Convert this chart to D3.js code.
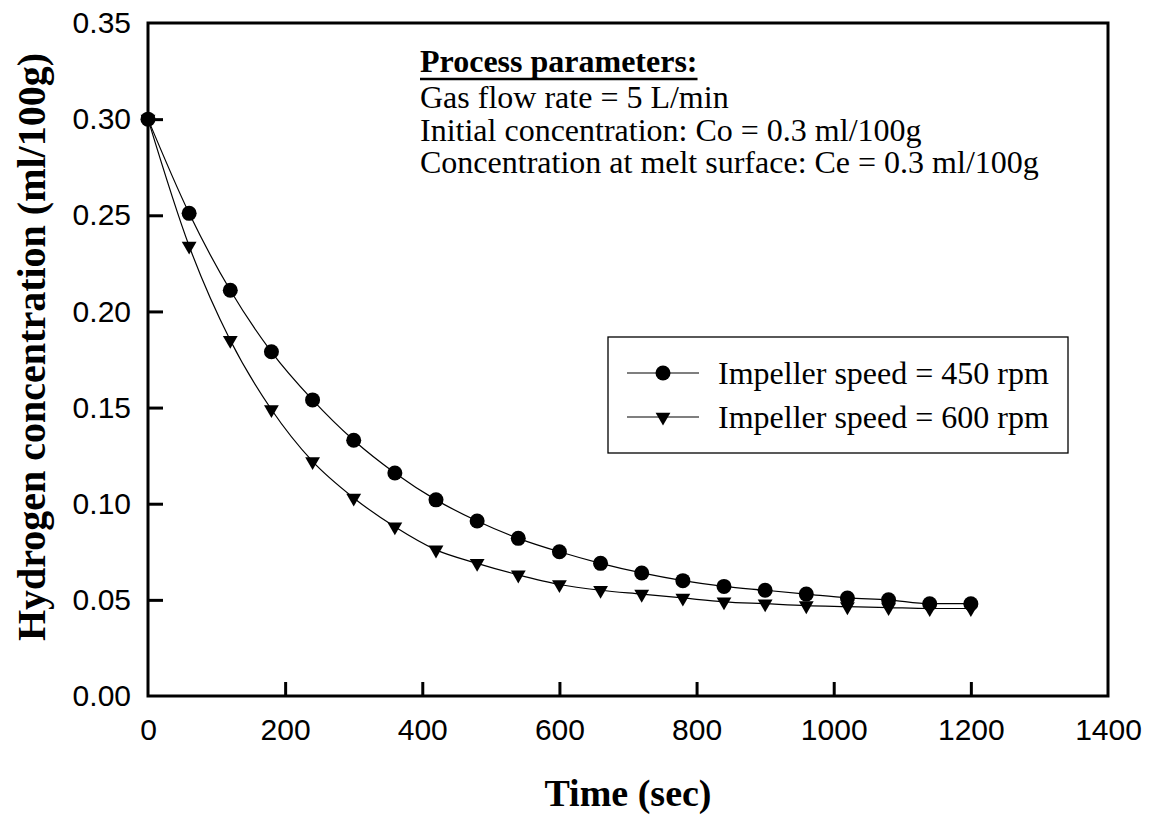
<!DOCTYPE html>
<html>
<head>
<meta charset="utf-8">
<script src="https://cdn.jsdelivr.net/npm/d3@7"></script>
<style>
  html, body { margin: 0; padding: 0; background: #fff; }
  svg { display: block; }
</style>
</head>
<body>
<svg id="chart" width="1151" height="816"></svg>
<script>
// ---- Data ----
const timeSec = [0, 60, 120, 180, 240, 300, 360, 420, 480, 540, 600, 660, 720, 780, 840, 900, 960, 1020, 1080, 1140, 1200];
const rpm450 = [0.300, 0.251, 0.211, 0.179, 0.154, 0.133, 0.116, 0.102, 0.091, 0.082, 0.075, 0.069, 0.064, 0.060, 0.057, 0.055, 0.053, 0.051, 0.050, 0.048, 0.048];
const rpm600 = [0.300, 0.234, 0.185, 0.149, 0.122, 0.103, 0.088, 0.076, 0.069, 0.063, 0.058, 0.055, 0.053, 0.051, 0.049, 0.048, 0.047, 0.0465, 0.046, 0.0455, 0.0455];
const seriesNames = ["Impeller speed = 450 rpm", "Impeller speed = 600 rpm"];
const xTicks = [0, 200, 400, 600, 800, 1000, 1200, 1400];
const yTicks = [0.00, 0.05, 0.10, 0.15, 0.20, 0.25, 0.30, 0.35];
const annotationTitle = "Process parameters:";
const annotationLines = [
  "Gas flow rate = 5 L/min",
  "Initial concentration: Co = 0.3 ml/100g",
  "Concentration at melt surface: Ce = 0.3 ml/100g"
];
const xTitle = "Time (sec)";
const yTitle = "Hydrogen concentration (ml/100g)";

// ---- Layout ----
const plotL = 148, plotR = 1108, plotT = 23, plotB = 696;
const svg = d3.select("#chart");
const x = d3.scaleLinear().domain([0, 1400]).range([plotL, plotR]);
const y = d3.scaleLinear().domain([0, 0.35]).range([plotB, plotT]);

const serif = "'Liberation Serif', 'Times New Roman', serif";
const sans = "'Liberation Sans', Arial, sans-serif";

// frame
svg.append("rect")
  .attr("x", plotL).attr("y", plotT)
  .attr("width", plotR - plotL).attr("height", plotB - plotT)
  .attr("fill", "none").attr("stroke", "#000").attr("stroke-width", 3);

// axes (ticks inward)
const xAxis = d3.axisBottom(x).tickValues(xTicks).tickSize(-14).tickFormat(d3.format("d"));
const gx = svg.append("g").attr("transform", `translate(0,${plotB})`).call(xAxis);
gx.select(".domain").remove();
gx.selectAll(".tick line").attr("stroke", "#000").attr("stroke-width", 3);
gx.selectAll(".tick text").attr("font-family", sans).attr("font-size", 30).attr("fill", "#000").attr("dy", "0.71em").attr("y", 23);
gx.selectAll(".tick").filter(d => d === 0 || d === 1400).select("line").remove();

const yAxis = d3.axisLeft(y).tickValues(yTicks).tickSize(-15).tickFormat(d3.format(".2f"));
const gy = svg.append("g").attr("transform", `translate(${plotL},0)`).call(yAxis);
gy.select(".domain").remove();
gy.selectAll(".tick line").attr("stroke", "#000").attr("stroke-width", 3);
gy.selectAll(".tick text").attr("font-family", sans).attr("font-size", 30).attr("fill", "#000").attr("x", -17);
gy.selectAll(".tick").filter(d => d === 0 || d === 0.35).select("line").remove();

// curves
const line = d3.line().x(d => x(d[0])).y(d => y(d[1])).curve(d3.curveMonotoneX);
const d450 = timeSec.map((t, i) => [t, rpm450[i]]);
const d600 = timeSec.map((t, i) => [t, rpm600[i]]);

svg.append("path").datum(d600).attr("d", line).attr("fill", "none").attr("stroke", "#000").attr("stroke-width", 1.2);
svg.append("path").datum(d450).attr("d", line).attr("fill", "none").attr("stroke", "#000").attr("stroke-width", 1.2);

const tri = d3.symbol().type(d3.symbolTriangle).size(95);
svg.append("g").selectAll("path").data(d600).join("path")
  .attr("d", tri)
  .attr("transform", d => `translate(${x(d[0])},${y(d[1])}) rotate(180)`)
  .attr("fill", "#000");

svg.append("g").selectAll("circle").data(d450).join("circle")
  .attr("cx", d => x(d[0])).attr("cy", d => y(d[1])).attr("r", 7.5)
  .attr("fill", "#000");

// annotation
const ann = svg.append("g").attr("font-family", serif).attr("font-size", 32).attr("fill", "#000");
const t0 = ann.append("text").attr("x", 420).attr("y", 72).attr("font-weight", "bold").text(annotationTitle);
ann.append("line").attr("x1", 420).attr("x2", 420 + t0.node().getComputedTextLength())
  .attr("y1", 79).attr("y2", 79).attr("stroke", "#000").attr("stroke-width", 2.5);
annotationLines.forEach((s, i) => {
  ann.append("text").attr("x", 420).attr("y", 108 + i * 32.5).text(s);
});

// legend
const lg = svg.append("g");
lg.append("rect").attr("x", 608).attr("y", 337).attr("width", 460).attr("height", 116)
  .attr("fill", "#fff").attr("stroke", "#000").attr("stroke-width", 1.3);
const rows = [373, 417];
rows.forEach((ry, i) => {
  lg.append("line").attr("x1", 627).attr("x2", 699).attr("y1", ry).attr("y2", ry).attr("stroke", "#000").attr("stroke-width", 1.2);
  if (i === 0) {
    lg.append("circle").attr("cx", 663).attr("cy", ry).attr("r", 7.5).attr("fill", "#000");
  } else {
    lg.append("path").attr("d", tri).attr("transform", `translate(663,${ry}) rotate(180)`).attr("fill", "#000");
  }
  lg.append("text").attr("x", 718).attr("y", ry + 11).attr("font-family", serif).attr("font-size", 32).attr("fill", "#000").text(seriesNames[i]);
});

// axis titles
svg.append("text").attr("x", (plotL + plotR) / 2).attr("y", 806)
  .attr("text-anchor", "middle").attr("font-family", serif).attr("font-weight", "bold").attr("font-size", 38)
  .text(xTitle);
svg.append("text").attr("transform", `translate(45,347) rotate(-90)`)
  .attr("text-anchor", "middle").attr("font-family", serif).attr("font-weight", "bold").attr("font-size", 40)
  .text(yTitle);
</script>
</body>
</html>
